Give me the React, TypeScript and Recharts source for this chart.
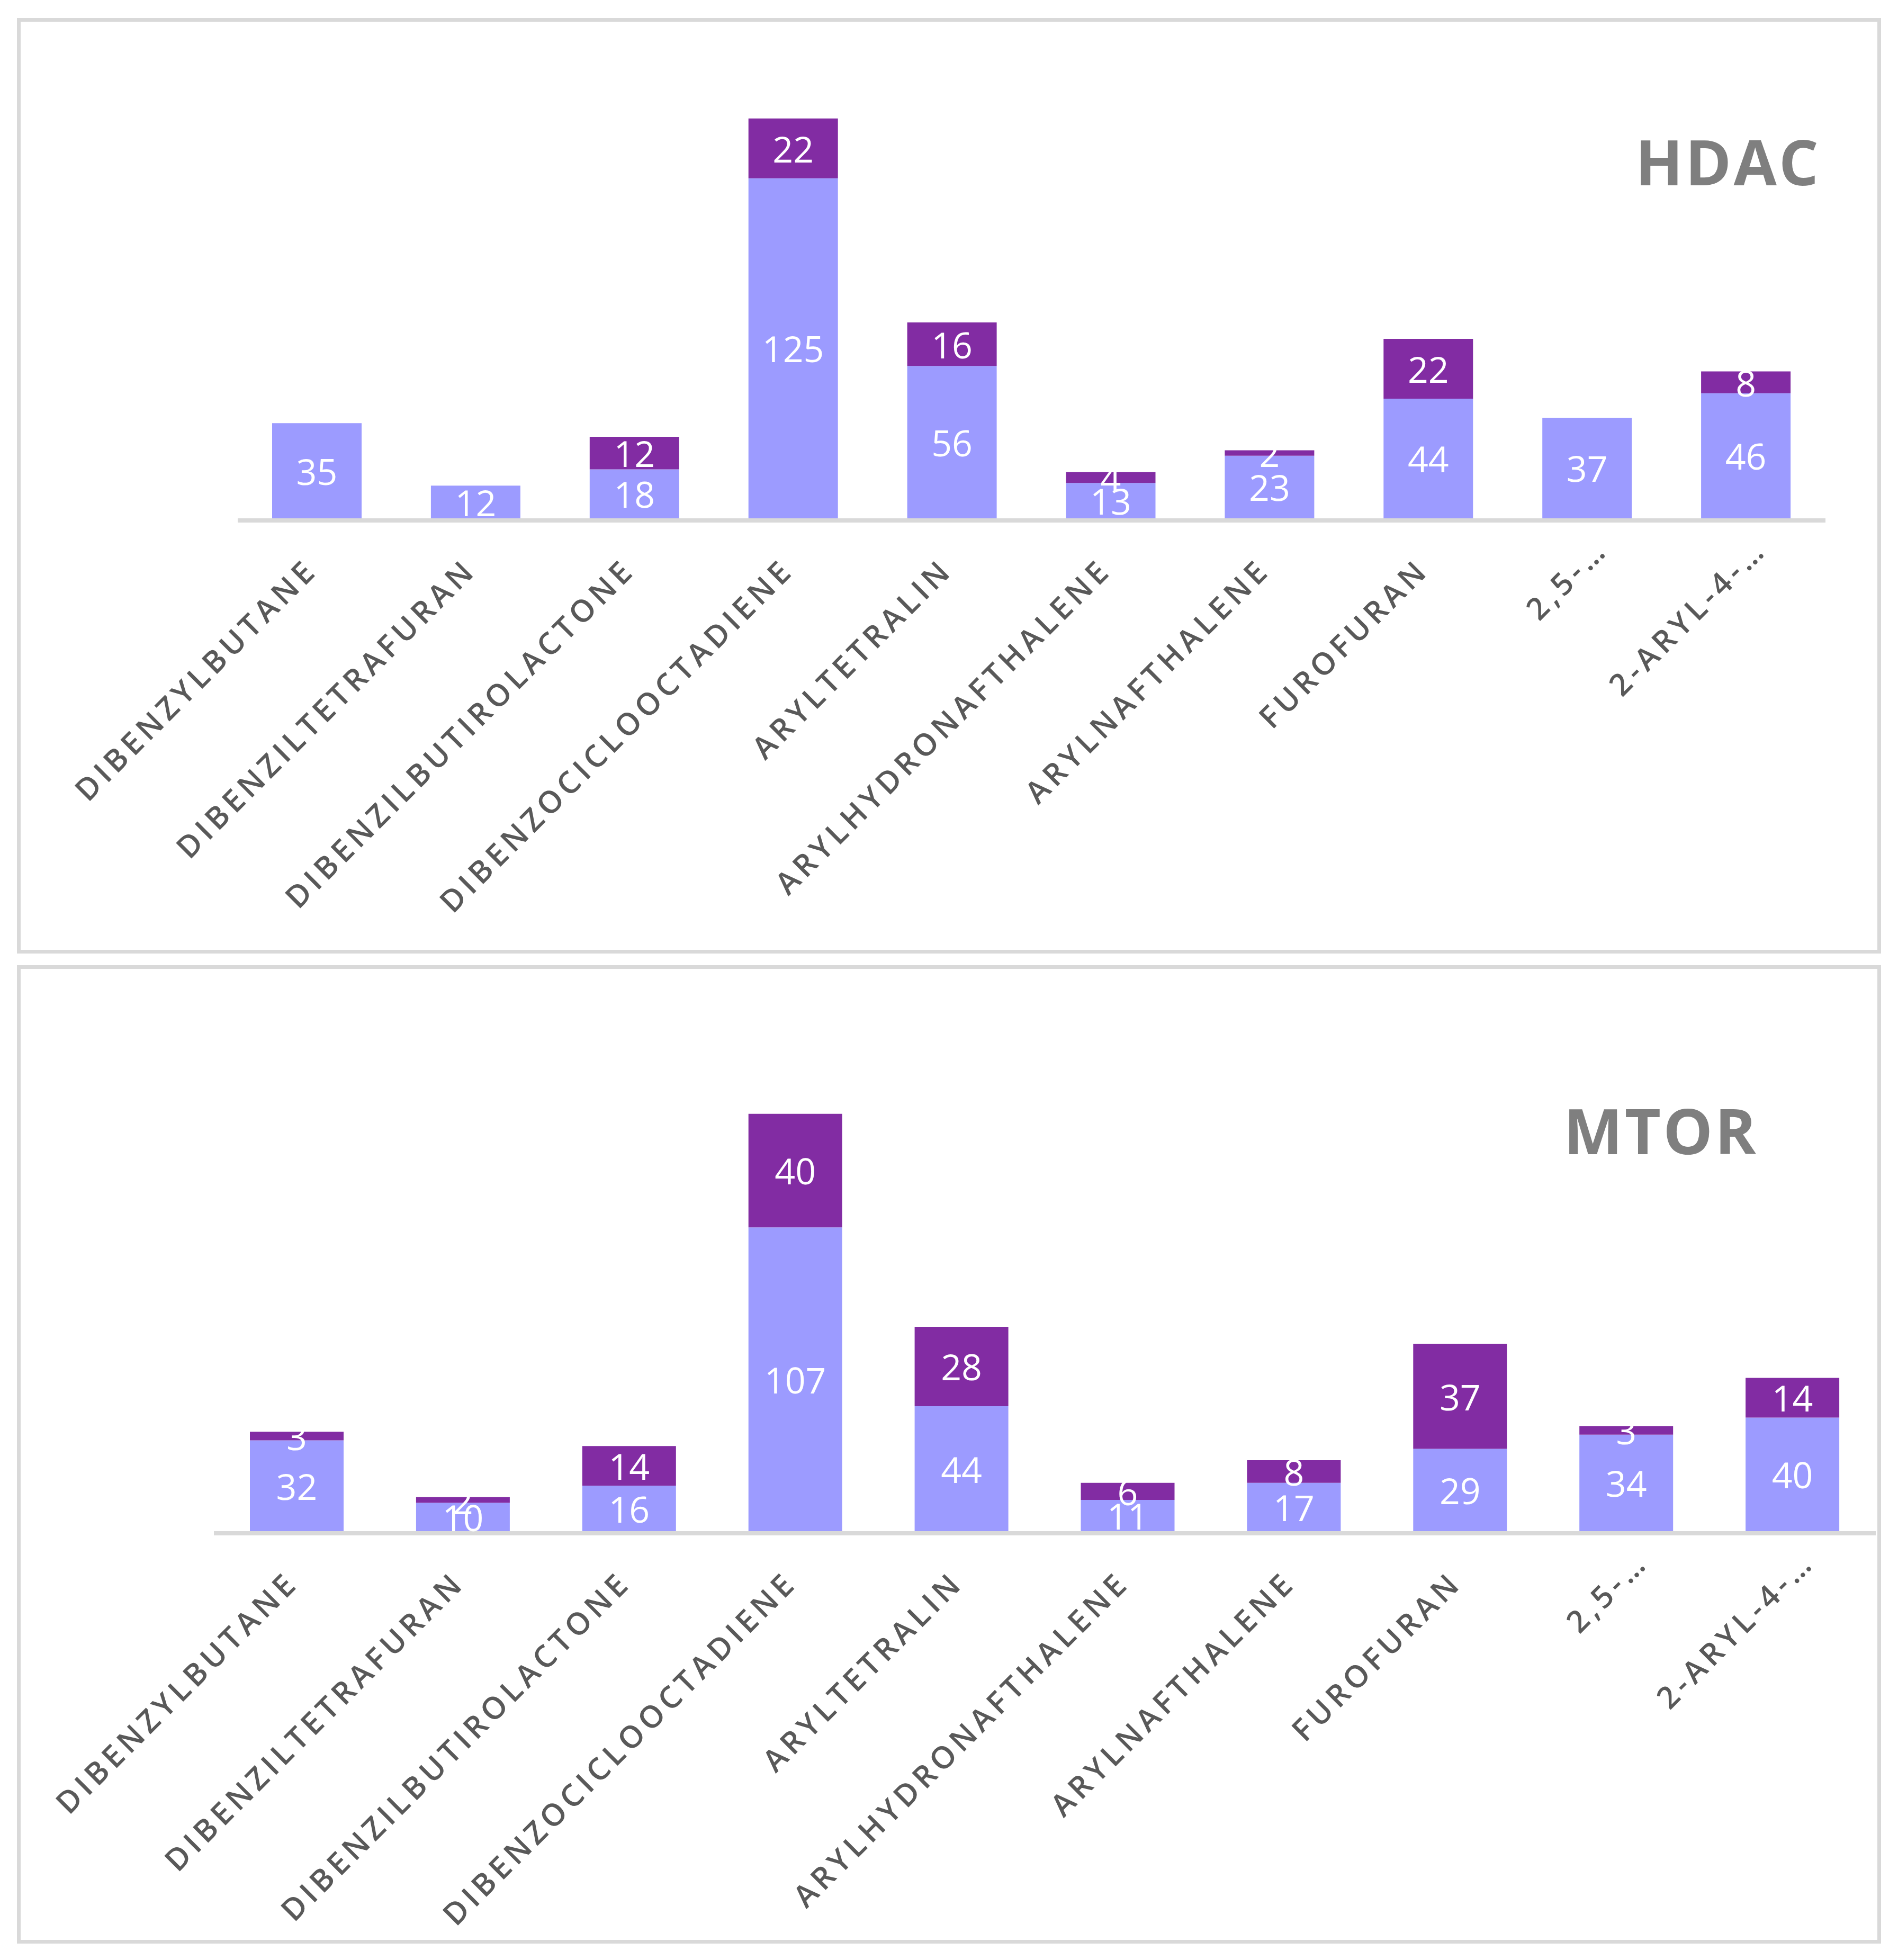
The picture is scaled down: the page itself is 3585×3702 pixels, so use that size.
import React from 'react';
import { BarChart, Bar, XAxis, YAxis, LabelList, Customized } from 'recharts';

const categories = [
  'DIBENZYLBUTANE',
  'DIBENZILTETRAFURAN',
  'DIBENZILBUTIROLACTONE',
  'DIBENZOCICLOOCTADIENE',
  'ARYLTETRALIN',
  'ARYLHYDRONAFTHALENE',
  'ARYLNAFTHALENE',
  'FUROFURAN',
  '2,5-…',
  '2-ARYL-4-…',
];

const hdacBase = [35, 12, 18, 125, 56, 13, 23, 44, 37, 46];
const hdacExtra = [null, null, 12, 22, 16, 4, 2, 22, null, 8];
const mtorBase = [32, 10, 16, 107, 44, 11, 17, 29, 34, 40];
const mtorExtra = [3, 2, 14, 40, 28, 6, 8, 37, 3, 14];

const LIGHT = '#9C9BFF';
const DARK = '#822CA3';
const FONT = '"Open Sans", "Liberation Sans", sans-serif';

const buildData = (base: (number | null)[], extra: (number | null)[]) =>
  categories.map((c, i) => ({ name: c, base: base[i], extra: extra[i] }));

const hdacData = buildData(hdacBase, hdacExtra);
const mtorData = buildData(mtorBase, mtorExtra);

const ValueLabel = (props: any) => {
  const { x, y, width, height, value } = props;
  if (value === null || value === undefined || value === 0) return null;
  return (
    <text
      x={Number(x) + Number(width) / 2}
      y={Number(y) + Number(height) / 2}
      textAnchor="middle"
      dominantBaseline="central"
      fill="#ffffff"
      fontSize={68}
      fontFamily={FONT}
    >
      {value}
    </text>
  );
};

const makeTick = (dxBase: number, dyBase: number) => (props: any) => {
  const { x, y, payload } = props;
  const label: string = String(payload.value);
  const shift = label.endsWith('…') ? 54 : 0;
  const bx = x + dxBase + shift * 0.7071;
  const by = y + dyBase - shift * 0.7071;
  return (
    <text
      x={bx}
      y={by}
      transform={`rotate(-45 ${bx} ${by})`}
      textAnchor="end"
      fill="#595959"
      fontSize={58}
      fontWeight={600}
      letterSpacing={8}
      fontFamily={FONT}
    >
      {label}
    </text>
  );
};

type PanelProps = {
  data: any[];
  title: string;
  top: number;
  height: number;
  margin: { top: number; right: number; bottom: number; left: number };
  barSize: number;
  titleX: number;
  titleY: number;
  tickDx: number;
};

const Panel = ({ data, title, top, height, margin, barSize, titleX, titleY, tickDx }: PanelProps) => (
  <div style={{ position: 'absolute', left: 0, top, width: 3585, height }}>
    <BarChart width={3585} height={height} data={data} margin={margin} barSize={barSize}>
      <XAxis
        dataKey="name"
        height={700}
        interval={0}
        tickLine={false}
        tickSize={0}
        tickMargin={0}
        axisLine={{ stroke: '#D9D9D9', strokeWidth: 8, transform: 'translate(0,4)' }}
        tick={makeTick(tickDx, 101)}
      />
      <YAxis hide domain={[0, 160]} />
      <Bar dataKey="base" stackId="a" fill={LIGHT} isAnimationActive={false}>
        <LabelList dataKey="base" content={ValueLabel} />
      </Bar>
      <Bar dataKey="extra" stackId="a" fill={DARK} isAnimationActive={false}>
        <LabelList dataKey="extra" content={ValueLabel} />
      </Bar>
      <Customized
        component={() => (
          <text
            x={titleX}
            y={titleY}
            textAnchor="end"
            fill="#7F7F7F"
            fontSize={118}
            fontWeight={700}
            letterSpacing={4}
            fontFamily={FONT}
          >
            {title}
          </text>
        )}
      />
    </BarChart>
  </div>
);

export default function App() {
  return (
    <div style={{ position: 'absolute', left: 0, top: 0, width: 3585, height: 3702, background: '#ffffff' }}>
      <div
        style={{
          position: 'absolute',
          left: 32,
          top: 34,
          width: 3521,
          height: 1767,
          border: '7px solid #D9D9D9',
          boxSizing: 'border-box',
        }}
      />
      <div
        style={{
          position: 'absolute',
          left: 32,
          top: 1823,
          width: 3521,
          height: 1848,
          border: '7px solid #D9D9D9',
          boxSizing: 'border-box',
        }}
      />
      <Panel
        data={hdacData}
        title="HDAC"
        top={0}
        height={1800}
        margin={{ top: 157, right: 137, bottom: 121, left: 449 }}
        barSize={169}
        titleX={3439}
        titleY={350}
        tickDx={4}
      />
      <Panel
        data={mtorData}
        title="MTOR"
        top={1800}
        height={1900}
        margin={{ top: 234, right: 42, bottom: 108, left: 404 }}
        barSize={177}
        titleX={3321}
        titleY={380}
        tickDx={6}
      />
    </div>
  );
}
